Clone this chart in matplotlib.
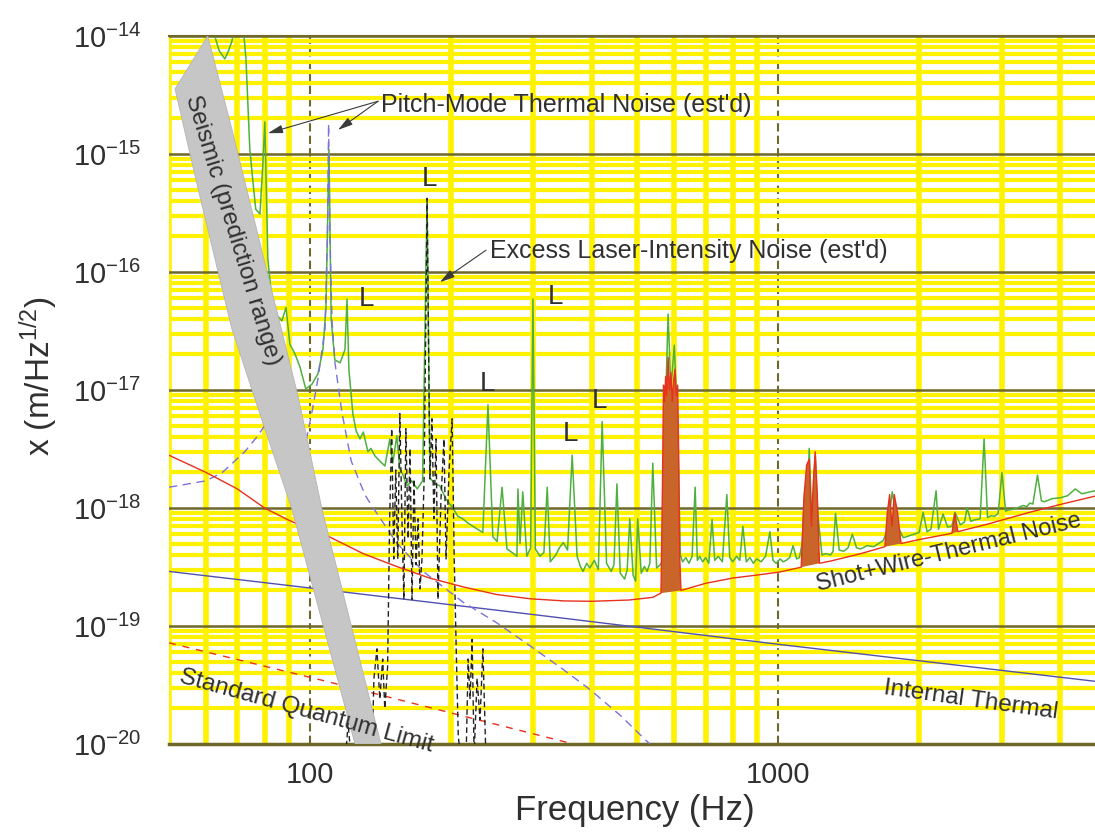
import matplotlib
matplotlib.use('Agg')
import matplotlib.pyplot as plt
from matplotlib.ticker import LogLocator, NullFormatter
import numpy as np

plt.rcParams['font.family'] = ['Liberation Sans', 'DejaVu Sans']
plt.rcParams['mathtext.fontset'] = 'custom'
plt.rcParams['mathtext.rm'] = 'Liberation Sans'
plt.rcParams['mathtext.it'] = 'Liberation Sans:italic'
plt.rcParams['mathtext.bf'] = 'Liberation Sans:bold'

# measured displacement noise (green trace)
meas_f = [50, 52, 54, 56, 58, 60, 62.6, 64, 65.8, 67, 68.1, 69.5, 71, 72, 73,
          74.4, 75.5, 76.6, 78.2, 79.3, 80.1, 80.7, 81.3, 82.9, 84, 85.4, 87.1,
          88.9, 90.6, 93, 95.2, 98, 101, 104, 106.6, 108.2, 109.8, 111, 113,
          116, 118.8, 120, 121.1, 123.5, 125.5, 127.9, 130, 133, 135, 137.7,
          141, 144.6, 148.1, 150.3, 153.3, 155.6, 158, 161.2, 165, 169.5, 174,
          177.9, 180.4, 185, 189.5, 195, 202, 207, 212, 217, 222.8, 228, 234,
          240, 245.8, 251, 257.2, 263.5, 270, 276.7, 278.1, 281, 284.8, 290.5,
          296, 299.4, 303, 310, 316, 321.2, 326, 335, 341, 347.6, 355, 363.1,
          372, 378, 383, 390, 396, 405, 413, 420.8, 430, 440, 446, 452.5, 460,
          470, 476, 482, 490, 496, 501.2, 510, 518, 525, 532, 539.8, 550, 560,
          567, 575, 582, 590, 600, 610, 618, 625, 635, 645, 655, 664.8, 672,
          680, 690, 700, 711, 722.4, 732, 745, 760, 776.9, 788, 800, 815, 828,
          840.8, 855, 870, 885, 900, 920, 940, 960.2, 975, 990, 1010, 1025,
          1040, 1058, 1076, 1095, 1110, 1125, 1140, 1152, 1165, 1180, 1200,
          1215, 1240, 1265, 1294, 1310, 1326, 1350, 1380, 1410, 1440, 1470,
          1500, 1550, 1600, 1640, 1677, 1710, 1753, 1800, 1850, 1900, 1950,
          2000, 2040, 2080, 2120, 2174, 2200, 2250, 2300, 2350, 2385, 2450,
          2500, 2532, 2580, 2620, 2700, 2753, 2800, 2850, 2900, 2950, 3006,
          3060, 3100, 3200, 3334, 3400, 3446, 3500, 3580, 3650, 3700, 3850,
          4000, 4150, 4311, 4450, 4600, 4750]
meas_x = [3e-14, 2e-14, 1.0e-14, 2.2e-14, 3e-14, 2e-14, 1.0e-14, 7.5e-15, 6.4e-15,
          7.5e-15, 9e-15, 1.3e-14, 2e-14, 1.2e-14, 6.4e-15,
          1.1e-15, 6e-16, 3.4e-16, 3.1e-16, 8e-16, 1.87e-15, 5e-16, 1.3e-16,
          5.9e-17, 4.8e-17, 4.2e-17, 3.85e-17,
          5.0e-17, 2.45e-17, 2.0e-17, 1.57e-17, 1.02e-17, 1.12e-17, 1.37e-17,
          2.2e-17, 5e-17, 1.1e-15, 4e-17, 1.8e-17,
          1.7e-17, 2.2e-17, 5.9e-17, 1.5e-17, 6.3e-18, 4.5e-18, 3.85e-18, 4.4e-18,
          3.0e-18, 3.2e-18, 2.76e-18,
          2.5e-18, 2.27e-18, 3.85e-18, 2.4e-18, 4.1e-18, 2.14e-18, 1.9e-18,
          1.54e-18, 1.7e-18, 1.45e-18, 1.7e-18,
          4.2e-16, 1.8e-18, 1.6e-18, 1.54e-18, 1.2e-18, 1.0e-18, 8.5e-19, 8.1e-19,
          7.5e-19, 7.0e-19, 6.6e-19, 6.2e-19,
          7.5e-18, 5.7e-19, 5.2e-19, 1.5e-18, 4.5e-19, 4.2e-19, 3.9e-19, 1.45e-18,
          5e-19, 1.37e-18, 3.9e-19,
          4.6e-19, 5.9e-17, 4.5e-19, 3.9e-19, 4.2e-19, 1.5e-18, 3.5e-19, 4.0e-19,
          4.6e-19, 5.1e-19, 4.4e-19, 2.8e-18,
          3.9e-19, 3.2e-19, 2.9e-19, 3.4e-19, 3.1e-19, 3.6e-19, 3.0e-19, 5.4e-18,
          3.4e-19, 2.9e-19, 3.3e-19, 1.6e-18, 2.8e-19,
          2.5e-19, 3.0e-19, 8.1e-19, 2.7e-19, 2.4e-19, 8.1e-19, 2.8e-19, 3.2e-19,
          2.9e-19, 3.4e-19, 2.4e-18, 3.1e-19, 3.3e-19,
          3.6e-19, 8e-18, 4.4e-17, 1.0e-17, 2.4e-17, 5e-18, 4e-19, 3.5e-19,
          3.8e-19, 3.4e-19, 3.9e-19, 1.5e-18, 3.6e-19,
          3.9e-19, 3.5e-19, 3.8e-19, 3.4e-19, 8e-19, 3.6e-19, 3.9e-19, 3.5e-19,
          1.3e-18, 3.8e-19, 3.5e-19, 3.9e-19, 3.6e-19,
          7e-19, 3.5e-19, 3.8e-19, 3.4e-19, 3.7e-19, 3.5e-19, 3.9e-19, 6.3e-19,
          3.6e-19, 3.4e-19, 3.7e-19, 3.5e-19,
          3.6e-19, 3.8e-19, 4.8e-19, 3.7e-19, 3.8e-19, 5e-19, 1.5e-18, 8e-19,
          3.2e-18, 8e-19, 2.8e-18,
          9e-19, 4.0e-19, 4.1e-19, 4.0e-19, 4.3e-19, 9e-19, 4.4e-19, 4.3e-19,
          4.6e-19, 6e-19, 4.6e-19,
          4.5e-19, 4.8e-19, 4.7e-19, 5.0e-19, 5.3e-19, 6.5e-19, 1.37e-18, 7e-19,
          5.6e-19, 5.8e-19, 6.0e-19,
          6.2e-19, 9.2e-19, 6.3e-19, 6.6e-19, 1.4e-18, 6.6e-19, 8.9e-19, 6.9e-19,
          7.0e-19, 9.2e-19, 7.2e-19,
          7.6e-19, 1.0e-18, 7.7e-19, 7.9e-19, 8.1e-19, 3.85e-18, 8.3e-19, 8.6e-19,
          8.5e-19, 9.0e-19, 2.0e-18,
          9.4e-19, 9.6e-19, 9.8e-19, 1.05e-18, 1.03e-18, 1.1e-18, 1.08e-18,
          1.9e-18, 1.15e-18, 1.13e-18, 1.2e-18,
          1.22e-18, 1.27e-18, 1.45e-18, 1.32e-18, 1.36e-18, 1.4e-18]

# shot + wire-thermal noise (red), violin modes included
shot_f = [50, 60, 70, 80, 90, 100, 110, 130, 153, 180, 212, 250, 296, 350, 400,
          480, 540, 562, 566, 569, 572, 575, 578, 582, 586, 590, 594, 598, 602,
          606, 610, 613, 616, 620, 700, 800, 900, 1009, 1120, 1135, 1150, 1165,
          1178, 1190, 1200, 1212, 1225, 1294, 1500, 1690, 1710, 1730, 1750,
          1770, 1800, 1830, 2000, 2350, 2385, 2420, 2800, 3446, 4000, 4750]
shot_x = [2.8e-18, 2.0e-18, 1.45e-18, 1.0e-18, 7.9e-19, 6.6e-19, 5.7e-19, 4.1e-19,
          3.2e-19, 2.55e-19, 2.15e-19, 1.85e-19, 1.7e-19, 1.63e-19, 1.62e-19,
          1.66e-19, 1.75e-19, 1.9e-19, 1.5e-18, 1.1e-17, 8e-18, 1.3e-17, 9e-18,
          1.9e-17, 1e-17, 1.4e-17, 8e-18, 1.2e-17, 1.5e-17,
          9e-18, 1.1e-17, 3e-18, 4e-19, 2.0e-19, 2.3e-19, 2.55e-19, 2.7e-19,
          2.87e-19, 3.15e-19, 1.2e-18, 2.3e-18, 2.6e-18,
          7e-19, 1.8e-18, 3.0e-18, 1.3e-18, 3.4e-19, 3.55e-19, 4.1e-19, 4.7e-19,
          9e-19, 1.3e-18, 7e-19,
          1.3e-18, 9e-19, 5e-19, 5.4e-19, 6.1e-19, 9e-19, 6.3e-19, 7.3e-19,
          9.2e-19, 1.07e-18, 1.26e-18]
violin_bands = [(562, 620), (1120, 1225), (1690, 1830), (2350, 2420)]

# internal thermal (blue solid)
therm_f = [50, 100, 300, 1000, 4750]
therm_x = [2.9e-19, 2.1e-19, 1.25e-19, 7.0e-20, 3.4e-20]

# standard quantum limit (red dashed)
sql_f = [50, 110, 212, 348, 400]
sql_x = [7.2e-20, 3.35e-20, 1.73e-20, 1.05e-20, 9e-21]

# pitch-mode thermal noise, estimated (blue dashed)
pitch_f = [50, 60, 65, 72.6, 77, 81.7, 85, 88, 92, 96, 98, 101, 104, 107.7, 109,
           109.6, 110.3, 111.5, 113.1, 117, 122.5, 131, 134.4, 153, 174.5, 212,
           251, 295, 347, 396, 460, 525, 600]
pitch_x = [1.5e-18, 1.7e-18, 2.0e-18, 3.0e-18, 4.0e-18, 5.6e-18, 1.0e-17, 1.6e-17,
           8e-18, 4.5e-18, 3.6e-18, 6.5e-18, 1.24e-17, 3.3e-17, 2e-16,
           1.8e-15, 2e-16, 3.8e-17, 1.7e-17, 6.5e-18, 2.5e-18, 1.3e-18, 1.1e-18,
           5.1e-19, 2.9e-19, 1.6e-19,
           1.06e-19, 6.8e-20, 4.3e-20, 2.9e-20, 1.75e-20, 1.05e-20, 6.5e-21]

# excess laser-intensity noise, estimated (black dashed)
laser_f = [119.3, 120.6, 122.3, 135.6, 137, 139, 141, 143, 144.5, 146.5, 148,
           149.5, 151, 152.5, 154, 155.6, 157.2, 158.7, 160.3, 162, 163.6, 165.2,
           166.8, 168.5, 170.2, 171.8, 173.5, 175.3, 177, 177.9, 178.8, 180.4,
           182.2, 184, 185.9, 187.7, 190.5, 193.3, 195.3, 198.2, 201.2, 203.3,
           205.3, 207.4, 209.5, 215.6, 217.7, 219.8, 222, 224.2, 227.5, 230.8,
           234.1, 237.5]
laser_x = [8e-21, 1.5e-20, 8e-21, 8e-21, 3.6e-20, 6.4e-20, 2.4e-20, 5.25e-20, 2e-20,
           4.5e-20, 8.1e-19, 4.7e-18, 3.7e-19, 2.1e-18, 3.7e-19, 6.3e-18, 8.1e-19,
           1.68e-19, 4.7e-18, 5.5e-19, 3.2e-18, 1.68e-19, 1.76e-18, 3.3e-19,
           8.1e-19, 2.06e-19, 3.7e-19, 1.76e-18, 5.9e-17, 4.2e-16, 5.9e-17,
           1.76e-18, 5.7e-18, 8.1e-19, 3.85e-18, 1.68e-19, 1.2e-18, 3.85e-18,
           3.7e-19, 2.1e-18, 5.7e-18, 3.7e-19, 6.4e-20, 1.17e-20, 8e-21, 8e-21,
           5.25e-20, 2.4e-20, 7.7e-20, 8e-21, 3.6e-20, 1.6e-20, 6.4e-20, 8e-21]

# seismic prediction band outline (left corner, tip, right edge down, left edge up)
seis_f = [51.5, 60.5, 68.1, 80.1, 94.3, 106.1, 141.8, 124.8, 91.5, 80.1, 68.1, 57.7]
seis_x = [3.56e-15, 1e-14, 1.63e-15, 1.2e-16, 8.9e-18, 9.8e-19, 1e-20, 1e-20,
          9.8e-19, 4.7e-18, 3.3e-17, 5.05e-16]

# "L" marks (laser-intensity lines)
l_f = [132.3, 180.4, 239, 334, 359.5, 416]
l_x = [5.9e-17, 6.1e-16, 1.12e-17, 6.1e-17, 4.2e-18, 8.1e-18]

y_ticks = [1e-20, 1e-19, 1e-18, 1e-17, 1e-16, 1e-15, 1e-14]
y_labels = ['$10^{-20}$', '$10^{-19}$', '$10^{-18}$', '$10^{-17}$',
            '$10^{-16}$', '$10^{-15}$', '$10^{-14}$']

yellow = '#fff200'
olive = '#6f682a'
txt = '#303030'

fig = plt.figure(figsize=(10.95, 8.33), dpi=100)
ax = fig.add_axes([169 / 1095, 89 / 833, 926 / 1095, 708 / 833])
ax.set_xscale('log')
ax.set_yscale('log')
ax.set_xlim(50, 4750)
ax.set_ylim(1e-20, 1e-14)

# graph-paper grid
ax.set_axisbelow(True)
ax.xaxis.set_minor_locator(LogLocator(base=10, subs=np.arange(2, 10), numticks=100))
ax.yaxis.set_minor_locator(LogLocator(base=10, subs=np.arange(2, 10), numticks=100))
ax.xaxis.set_minor_formatter(NullFormatter())
ax.yaxis.set_minor_formatter(NullFormatter())
ax.set_xticks([100, 1000], labels=['100', '1000'])
ax.set_yticks(y_ticks, labels=y_labels)
ax.xaxis.grid(True, which='minor', color=yellow, lw=4.0)
ax.yaxis.grid(True, which='minor', color=yellow, lw=3.0)
ax.xaxis.grid(True, which='major', color=olive, lw=1.5, ls=(0, (4, 2)))
ax.yaxis.grid(True, which='major', color=olive, lw=1.8)
for s in ['left', 'right']:
    ax.spines[s].set_visible(False)
ax.spines['top'].set_color(olive)
ax.spines['top'].set_linewidth(1.5)
ax.spines['bottom'].set_color(olive)
ax.spines['bottom'].set_linewidth(2.5)
ax.tick_params(which='both', length=0)
ax.tick_params(axis='x', labelsize=21, pad=12, colors=txt)
ax.tick_params(axis='y', labelsize=21, pad=20, colors=txt)

# noise curves
ax.plot(meas_f, meas_x, color='#4fb040', lw=1.1, zorder=2)
ax.plot(therm_f, therm_x, color='#5050b0', lw=1.0, zorder=2)
ax.plot(sql_f, sql_x, color='#e8301c', lw=1.0, dashes=(5, 5), zorder=2)
ax.plot(pitch_f, pitch_x, color='#7a72d8', lw=1.0, dashes=(6, 4), zorder=3)
ax.plot(laser_f, laser_x, color='#222222', lw=1.0, dashes=(4, 2.5), zorder=3)
sf = np.array(shot_f)
sx = np.array(shot_x)
for lo, hi in violin_bands:
    m = (sf >= lo) & (sf <= hi)
    ax.fill(sf[m], sx[m], color='#c9642a', lw=0, zorder=3)
ax.plot(shot_f, shot_x, color='#e8301c', lw=1.0, zorder=3)

# seismic band
ax.fill(seis_f, seis_x, facecolor='#c6c6c6', edgecolor='#b4b4b4', lw=0.6, zorder=5)
ax.text(68.4, 2.27e-16, 'Seismic (prediction range)', rotation=-73,
        ha='center', va='center', fontsize=17.5, color=txt, zorder=6,
        rotation_mode='anchor')

# labels on curves
ax.text(1215, 1.98e-19, 'Shot+Wire-Thermal Noise', rotation=13.8, ha='left',
        va='baseline', rotation_mode='anchor', fontsize=17, color=txt, zorder=6)
ax.text(2583, 2.36e-20, 'Internal Thermal', rotation=-8, ha='center',
        va='center', rotation_mode='anchor', fontsize=17.5, color=txt, zorder=6)
ax.text(98, 1.9e-20, 'Standard Quantum Limit', rotation=-15.4, ha='center',
        va='center', rotation_mode='anchor', fontsize=17.5, color=txt, zorder=6)
for f, x in zip(l_f, l_x):
    ax.text(f, x, 'L', ha='center', va='center', fontsize=20, color=txt, zorder=6)

ax.text(141.8, 2.6e-15, "Pitch-Mode Thermal Noise (est'd)", ha='left',
        va='center', fontsize=18, color=txt, zorder=6)
aprops = dict(arrowstyle='-|>,head_length=0.9,head_width=0.25', color='#3a3a3a',
              lw=0.8, shrinkA=0, shrinkB=0)
ax.annotate('', xy=(81.3, 1.5e-15), xytext=(139.8, 2.8e-15), arrowprops=aprops,
            zorder=6)
ax.annotate('', xy=(114.8, 1.6e-15), xytext=(139.8, 2.8e-15), arrowprops=aprops,
            zorder=6)
ax.text(242, 1.5e-16, "Excess Laser-Intensity Noise (est'd)", ha='left',
        va='center', fontsize=18, color=txt, zorder=6)
ax.annotate('', xy=(189.5, 8.2e-17), xytext=(237.7, 1.53e-16), arrowprops=aprops,
            zorder=6)

ax.set_xlabel('Frequency (Hz)', fontsize=25, color=txt)
ax.xaxis.set_label_coords(0.503, -0.07)
ax.set_ylabel('x (m/Hz$^{1/2}$)', fontsize=24, color=txt)
ax.yaxis.set_label_coords(-0.118, 0.52)

fig.savefig('out.png', dpi=100)
